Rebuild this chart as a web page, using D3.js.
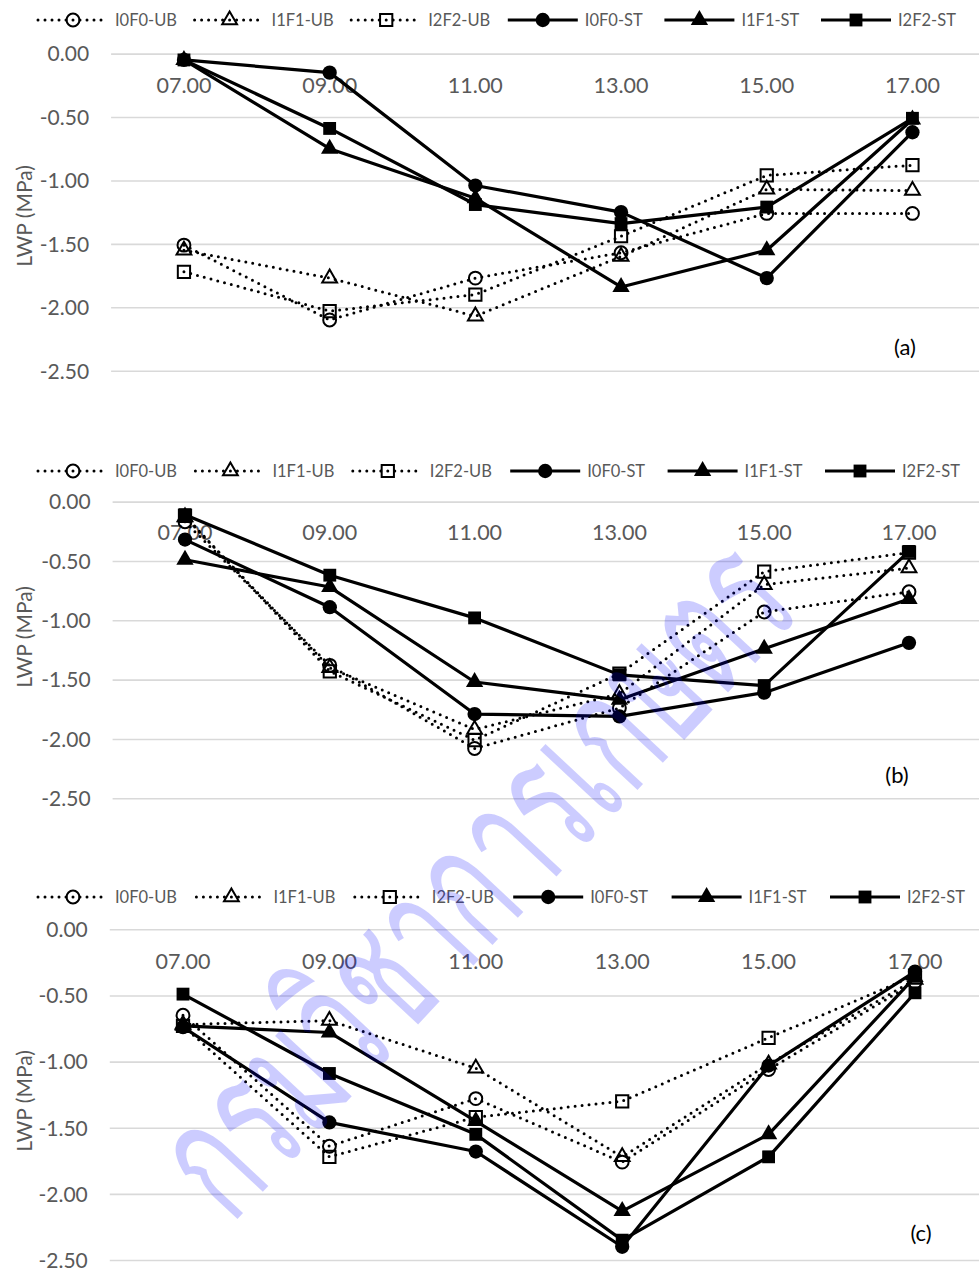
<!DOCTYPE html>
<html><head><meta charset="utf-8">
<script src="https://cdn.jsdelivr.net/npm/d3@7"></script>
<style>
html,body{margin:0;padding:0;background:#fff;}
svg{display:block;}
text{font-family:Lato,"Open Sans",sans-serif;}
</style></head>
<body>
<script>
// ---- data ----
const times = ["07.00","09.00","11.00","13.00","15.00","17.00"];
const seriesNames = ["I0F0-UB","I1F1-UB","I2F2-UB","I0F0-ST","I1F1-ST","I2F2-ST"];
const yTicks = [0, -0.5, -1, -1.5, -2, -2.5];
const panelTags = ["(a)","(b)","(c)"];
const yTitle = "LWP (MPa)";
const watermark = "กรมวิชาการเกษตร";

// panel (a)
const a_I0F0_UB = [-1.51, -2.10, -1.77, -1.57, -1.26, -1.26];
const a_I1F1_UB = [-1.55, -1.77, -2.07, -1.60, -1.07, -1.08];
const a_I2F2_UB = [-1.72, -2.03, -1.90, -1.44, -0.96, -0.88];
const a_I0F0_ST = [-0.05, -0.15, -1.04, -1.25, -1.77, -0.62];
const a_I1F1_ST = [-0.05, -0.75, -1.14, -1.84, -1.55, -0.52];
const a_I2F2_ST = [-0.05, -0.59, -1.19, -1.34, -1.21, -0.51];
// panel (b)
const b_I0F0_UB = [-0.17, -1.38, -2.08, -1.74, -0.93, -0.76];
const b_I1F1_UB = [-0.13, -1.40, -1.92, -1.62, -0.70, -0.56];
const b_I2F2_UB = [-0.12, -1.43, -2.01, -1.45, -0.59, -0.43];
const b_I0F0_ST = [-0.32, -0.89, -1.79, -1.81, -1.61, -1.19];
const b_I1F1_ST = [-0.49, -0.72, -1.52, -1.67, -1.24, -0.82];
const b_I2F2_ST = [-0.11, -0.62, -0.98, -1.46, -1.55, -0.42];
// panel (c)
const c_I0F0_UB = [-0.65, -1.64, -1.28, -1.76, -1.06, -0.40];
const c_I1F1_UB = [-0.72, -0.69, -1.05, -1.72, -1.02, -0.38];
const c_I2F2_UB = [-0.73, -1.72, -1.42, -1.30, -0.82, -0.35];
const c_I0F0_ST = [-0.74, -1.46, -1.68, -2.40, -1.03, -0.32];
const c_I1F1_ST = [-0.73, -0.78, -1.45, -2.13, -1.55, -0.36];
const c_I2F2_ST = [-0.49, -1.09, -1.55, -2.35, -1.72, -0.48];

const panelData = [
  [a_I0F0_UB, a_I1F1_UB, a_I2F2_UB, a_I0F0_ST, a_I1F1_ST, a_I2F2_ST],
  [b_I0F0_UB, b_I1F1_UB, b_I2F2_UB, b_I0F0_ST, b_I1F1_ST, b_I2F2_ST],
  [c_I0F0_UB, c_I1F1_UB, c_I2F2_UB, c_I0F0_ST, c_I1F1_ST, c_I2F2_ST]
];

// ---- layout ----
const W = 979, H = 1270;
const layout = [
  {legendY:20,  legendStep:156.6, y0:53.6,  y25:370.7,  left:111.1, step:145.7, xLabY:85,    titleY:216,  tagX:905, tagY:347},
  {legendY:471, legendStep:157.4, y0:501.6, y25:798.3,  left:112.6, step:144.8, xLabY:532.7, titleY:637,  tagX:897, tagY:775},
  {legendY:897, legendStep:158.4, y0:929.3, y25:1260.0, left:109.8, step:146.4, xLabY:961,   titleY:1101, tagX:921, tagY:1233}
];
const shapes = [d3.symbolCircle, d3.symbolTriangle, d3.symbolSquare, d3.symbolCircle, d3.symbolTriangle, d3.symbolSquare];
const shapeSize = [130, 95, 150, 160, 130, 165];
const isDotted = [true,true,true,false,false,false];
const textGray = "#595959";

const svg = d3.select("body").append("svg").attr("width", W).attr("height", H);

function styleSeries(sel, i){
  if (isDotted[i]) {
    sel.attr("stroke","#000").attr("stroke-width",3).attr("stroke-dasharray","0 7").attr("stroke-linecap","round");
  } else {
    sel.attr("stroke","#000").attr("stroke-width",3.2).attr("stroke-linejoin","round");
  }
}
function drawMarker(g, i, x, y){
  const p = g.append("path").attr("d", d3.symbol().type(shapes[i]).size(shapeSize[i])())
    .attr("transform", `translate(${x},${y})`);
  if (isDotted[i]) p.attr("fill","none").attr("stroke","#000").attr("stroke-width",2);
  else p.attr("fill","#000");
}

layout.forEach((L, pi) => {
  const g = svg.append("g");
  const x = d3.scaleBand().domain(times).range([L.left, L.left + 6*L.step]).padding(0);
  const y = d3.scaleLinear().domain([-2.5, 0]).range([L.y25, L.y0]);
  const plotW = 6*L.step;

  // y axis with gridlines
  const ya = g.append("g").attr("transform", `translate(${L.left},0)`)
    .call(d3.axisLeft(y).tickValues(yTicks).tickSize(-plotW).tickPadding(22).tickFormat(d => d.toFixed(2)));
  ya.select(".domain").remove();
  ya.selectAll(".tick line").attr("stroke","#d9d9d9").attr("stroke-width",1.6);
  ya.selectAll(".tick text").attr("fill",textGray).attr("font-size",21).attr("font-family","Lato").attr("dy","0.35em");

  // x axis labels (categories, shown near top)
  const xa = g.append("g").attr("transform", `translate(0,${L.xLabY})`)
    .call(d3.axisBottom(x).tickSize(0).tickPadding(0));
  xa.select(".domain").remove();
  xa.selectAll(".tick text").attr("fill",textGray).attr("font-size",21.5).attr("font-family","Lato").attr("y",0).attr("dy","0.35em");

  // y title
  g.append("text").attr("transform", `translate(23,${L.titleY}) rotate(-90)`)
    .attr("text-anchor","middle").attr("dominant-baseline","central")
    .attr("fill",textGray).attr("font-size",21).text(yTitle);

  // series
  const cx = t => x(t) + x.bandwidth()/2;
  panelData[pi].forEach((vals, si) => {
    const pts = times.map((t, k) => [cx(t), y(vals[k])]);
    const line = d3.line();
    const sg = g.append("g");
    styleSeries(sg.append("path").attr("d", line(pts)).attr("fill","none"), si);
    pts.forEach(p => drawMarker(sg, si, p[0], p[1]));
  });

  // legend
  seriesNames.forEach((name, si) => {
    const x0 = 38 + si * L.legendStep;
    const lg = g.append("g");
    styleSeries(lg.append("line").attr("x1", x0).attr("x2", x0 + 70).attr("y1", L.legendY).attr("y2", L.legendY), si);
    drawMarker(lg, si, x0 + 35, L.legendY);
    lg.append("text").attr("x", x0 + 77).attr("y", L.legendY).attr("dy","0.35em")
      .attr("fill",textGray).attr("font-size",16.5).text(name);
  });

  // panel tag
  g.append("text").attr("x", L.tagX).attr("y", L.tagY).attr("text-anchor","middle").attr("dy","0.35em")
    .attr("fill","#000").attr("font-size",22).text(panelTags[pi]);
});

// watermark
svg.append("text").attr("transform","translate(468,872) rotate(-47)")
  .attr("text-anchor","middle").attr("dominant-baseline","central")
  .attr("font-size",175).attr("fill","#0000ff").attr("fill-opacity",0.2)
  .attr("font-family","'Noto Sans', 'DejaVu Sans', sans-serif")
  .attr("textLength",840).attr("lengthAdjust","spacingAndGlyphs")
  .text(watermark);
</script>
</body></html>
